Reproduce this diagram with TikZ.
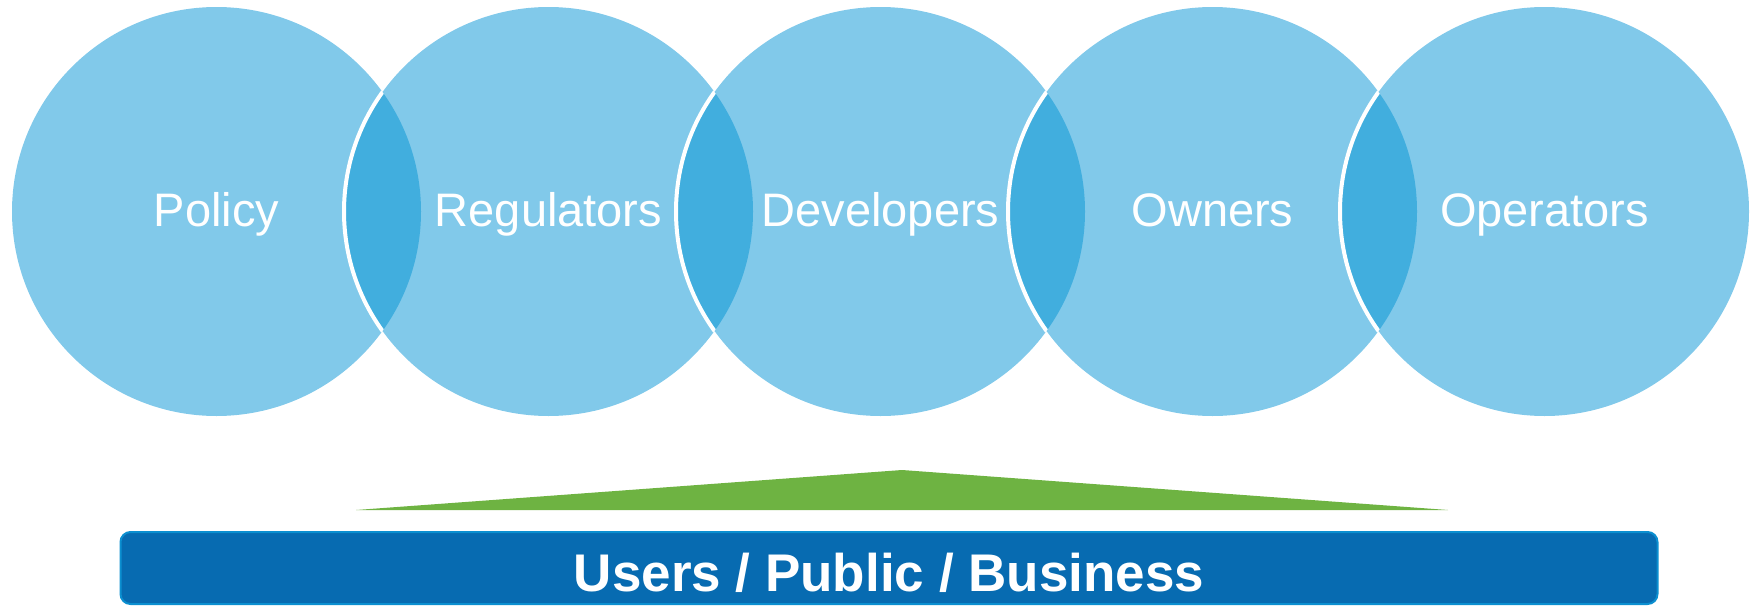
\documentclass[tikz,border=0pt]{standalone}
\usepackage{fontspec}
\setmainfont{Liberation Sans}
\usepackage{tikz}
\usetikzlibrary{calc}
\usetikzlibrary{positioning}
\definecolor{skyblue}{HTML}{81C9EA}
\definecolor{lensblue}{HTML}{41AEDE}
\definecolor{barblue}{HTML}{076BB1}
\definecolor{barline}{HTML}{0B8FD0}
\definecolor{leafgreen}{HTML}{6EB342}
\tikzset{stake/.style={circle,fill=skyblue,minimum size=204.5pt,inner sep=0pt}}
\tikzset{role/.style={text=white,font=\fontsize{23.5}{28}\selectfont,anchor=base,inner sep=0pt}}
\tikzset{usersbar/.style={rectangle,rounded corners=5pt,fill=barblue,draw=barline,line width=1pt,minimum width=768.5pt,minimum height=36pt,inner sep=0pt,text=white,text height=23.3pt,text depth=0.3pt,font=\bfseries\fontsize{26.5}{30}\selectfont}}

\begin{document}
\begin{tikzpicture}[x=0.5pt,y=-0.5pt]
\useasboundingbox (0,0) rectangle (1756,605);
\foreach \i in {1,...,5} {
	\node[stake] (C\i) at ({-115.5+332*\i},211.5) {};
}
\foreach \i / \j in {1/2,2/3,3/4,4/5} {
	\begin{scope}
	\clip (C\i.center) circle[radius=102.25pt];
	\fill[lensblue] (C\j.center) circle[radius=102.25pt];
	\draw[white,line width=2pt] (C\j.center) circle[radius=102.25pt];
	\end{scope}
}
\foreach \i / \name in {1/Policy,2/Regulators,3/Developers,4/Owners,5/Operators} {
	\node[role] (L\i) at ($ (C\i) + (0,15) $) {\name};
}
\coordinate (apex) at (902,470);
\coordinate (gl) at (356,510);
\coordinate (gr) at (1448,510);
\fill[leafgreen] (gl) -- (apex) -- (gr) -- cycle;
\node[usersbar] (users) at (889,568) {Users / Public / Business};
\end{tikzpicture}
\end{document}
